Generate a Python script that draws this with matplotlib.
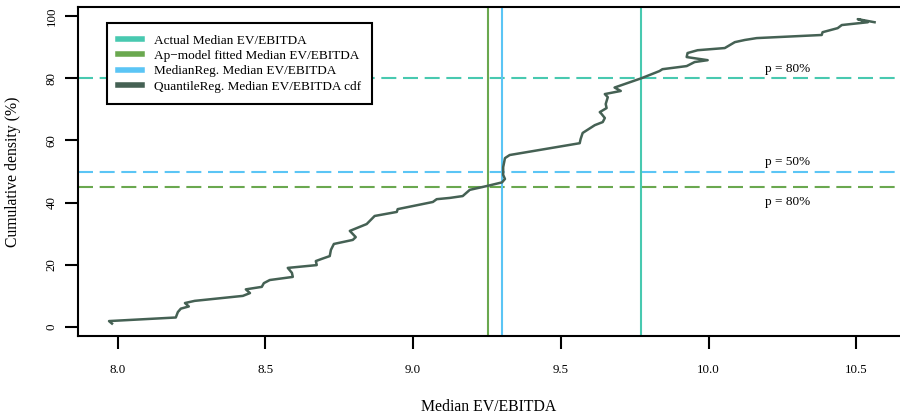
import numpy as np
import matplotlib
matplotlib.use("Agg")
import matplotlib.pyplot as plt
from matplotlib.lines import Line2D

plt.rcParams['font.family'] = ['Liberation Serif', 'DejaVu Serif']

# QuantileReg. median EV/EBITDA cdf (x, cumulative %)
cdfX = [7.981, 7.971, 8.197, 8.204, 8.214, 8.241, 8.228, 8.261, 8.424, 8.448,
        8.434, 8.488, 8.495, 8.515, 8.593, 8.590, 8.576, 8.674, 8.671, 8.691,
        8.718, 8.722, 8.732, 8.796, 8.806, 8.786, 8.843, 8.870, 8.945, 8.948,
        9.067, 9.080, 9.124, 9.168, 9.192, 9.253, 9.301, 9.311, 9.305, 9.305,
        9.311, 9.327, 9.564, 9.567, 9.574, 9.615, 9.642, 9.649, 9.638, 9.632,
        9.655, 9.652, 9.659, 9.649, 9.703, 9.682, 9.773, 9.834, 9.844, 9.926,
        9.953, 9.997, 9.926, 9.929, 9.963, 10.055, 10.089, 10.123, 10.163, 10.383,
        10.386, 10.437, 10.451, 10.539, 10.505, 10.562]
cdfY = [1.1, 1.9, 3.05, 4.8, 5.9, 6.6, 7.7, 8.4, 10.0, 10.9,
        12.1, 12.9, 14.1, 15.1, 16.1, 17.4, 19.0, 19.9, 21.2, 21.9,
        22.8, 24.8, 26.7, 28.0, 28.9, 30.9, 33.1, 35.7, 37.0, 37.9,
        40.2, 41.1, 41.5, 42.1, 44.1, 45.4, 46.5, 47.6, 48.9, 51.4,
        54.3, 55.3, 59.1, 60.4, 62.4, 64.9, 65.9, 67.2, 68.5, 69.1,
        70.4, 71.7, 73.9, 74.9, 75.9, 77.0, 80.0, 82.3, 82.9, 83.9,
        85.2, 85.8, 86.8, 88.1, 89.0, 89.7, 91.6, 92.3, 92.9, 93.9,
        94.8, 96.1, 97.1, 98.0, 99.0, 98.0]

# reference medians and probability levels
actualMedian = 9.773
apModelMedian = 9.253
medianRegMedian = 9.301
actualP = 80
medianRegP = 50
apModelP = 45

pLabels = ["p = 80%", "p = 50%", "p = 80%"]
pLabelY = [83.0, 53.0, 40.3]
pLabelX = 10.266

xTicks = [8.0, 8.5, 9.0, 9.5, 10.0, 10.5]
yTicks = [0, 20, 40, 60, 80, 100]

teal = "#48C9B0"
green = "#6AA84F"
blue = "#5BC5F5"
dark = "#456154"

fig = plt.figure(figsize=(9, 4.17), dpi=100)
ax = fig.add_axes([78 / 900, 81 / 417, 1 - 78 / 900, 329 / 417])

dash = (0, (7.2, 3.2))
ax.axhline(actualP, color=teal, lw=1.5, ls=dash)
ax.axhline(medianRegP, color=blue, lw=1.5, ls=dash)
ax.axhline(apModelP, color=green, lw=1.5, ls=dash)

ax.axvline(apModelMedian, color=green, lw=1.5)
ax.axvline(medianRegMedian, color=blue, lw=1.5)
ax.axvline(actualMedian, color=teal, lw=1.5)

ax.plot(cdfX, cdfY, color=dark, lw=1.8, solid_joinstyle="round")

for lab, yy in zip(pLabels, pLabelY):
    ax.text(pLabelX, yy, lab, ha="center", va="center", fontsize=9.5)

ax.set_xlim(7.866, 10.648)
ax.set_ylim(-2.9, 102.9)
ax.set_xticks(xTicks)
ax.set_xticklabels([f"{v:.1f}" for v in xTicks], fontsize=9.3)
ax.set_yticks(yTicks)
ax.set_yticklabels([str(v) for v in yTicks], fontsize=9.3, rotation=90, va="center")
ax.tick_params(axis="x", length=9.5, width=1.5, pad=11)
ax.tick_params(axis="y", length=9.5, width=1.5, pad=5)

for side in ["left", "top", "bottom"]:
    ax.spines[side].set_linewidth(1.5)
ax.spines["right"].set_visible(False)

ax.set_xlabel("Median EV/EBITDA", fontsize=11.3)
ax.xaxis.set_label_coords(0.5, -0.216)
ax.xaxis.label.set_va("center")
ax.set_ylabel("Cumulative density (%)", fontsize=11.3)
ax.yaxis.set_label_coords(-0.079, 0.5)
ax.yaxis.label.set_va("center")

handles = [Line2D([], [], color=teal, lw=4),
           Line2D([], [], color=green, lw=4),
           Line2D([], [], color=blue, lw=4),
           Line2D([], [], color=dark, lw=4)]
labels = ["Actual Median EV/EBITDA",
          "Ap\u2212model fitted Median EV/EBITDA",
          "MedianReg. Median EV/EBITDA",
          "QuantileReg. Median EV/EBITDA cdf"]
leg = ax.legend(handles, labels, loc="upper left", bbox_to_anchor=(0.0353, 0.951),
                borderaxespad=0, fontsize=9.5, handlelength=1.8, handletextpad=0.9,
                borderpad=0.85, labelspacing=0.24, fancybox=False, framealpha=1)
leg.get_frame().set_edgecolor("black")
leg.get_frame().set_linewidth(1.5)

fig.savefig("out.png", dpi=100)
